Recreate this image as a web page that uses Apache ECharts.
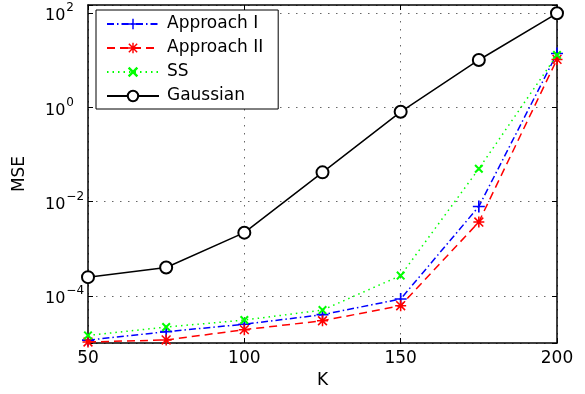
<!DOCTYPE html>
<html>
<head>
<meta charset="utf-8">
<script src="https://cdn.jsdelivr.net/npm/echarts@6/dist/echarts.min.js"></script>
<style>html,body{margin:0;padding:0;background:#fff}#c{width:585px;height:394px}</style>
</head>
<body>
<div id="c"></div>
<script>
const categories = [50, 75, 100, 125, 150, 175, 200];
const approach1 = [1.15e-5, 1.74e-5, 2.5e-5, 4.0e-5, 8.6e-5, 7.9e-3, 14];
const approach2 = [1.05e-5, 1.16e-5, 1.92e-5, 2.97e-5, 6.2e-5, 3.7e-3, 10.5];
const ss = [1.45e-5, 2.18e-5, 3.07e-5, 5.0e-5, 2.7e-4, 0.05, 13];
const gaussian = [2.5e-4, 4.0e-4, 2.2e-3, 0.042, 0.81, 10.2, 100];
const seriesNames = ['Approach I', 'Approach II', 'SS', 'Gaussian'];
const xTicks = [50, 100, 150, 200];
const yTickExponents = [-4, -2, 0, 2];
const xName = 'K';
const yName = 'MSE';

const FONT = 'DejaVu Sans';
const pair = arr => categories.map((k, i) => [k, arr[i]]);

const SYM_PLUS = 'path://M4.3,0H5.7V10H4.3Z M0,4.3H10V5.7H0Z';
const SYM_STAR = 'path://M4.3,0H5.7V10H4.3Z M0,4.3H10V5.7H0Z M0.5,1.5L1.5,0.5L9.5,8.5L8.5,9.5Z M8.5,0.5L9.5,1.5L1.5,9.5L0.5,8.5Z';
const SYM_X = 'path://M0,1.6L1.6,0L10,8.4L8.4,10Z M8.4,0L10,1.6L1.6,10L0,8.4Z';

function yLabel(v) {
  const l = Math.log10(v);
  const e = Math.round(l);
  if (Math.abs(l - e) > 1e-6 || yTickExponents.indexOf(e) < 0) return '';
  return '{b|10}{e|' + (e < 0 ? '\u2212' + (-e) : e) + '}';
}

const grid = { left: 88, right: 28, top: 5, bottom: 51 };
const axisLineStyle = { color: '#000', width: 1.5 };
const gridLine = { show: true, lineStyle: { color: '#666', width: 1, type: [1.5, 6.5] } };

const chart = echarts.init(document.getElementById('c'), null, { renderer: 'canvas' });
chart.setOption({
  animation: false,
  backgroundColor: '#fff',
  grid: grid,
  legend: {
    orient: 'vertical',
    left: 96, top: 10,
    padding: [4, 15, 3, 10],
    itemGap: 4,
    itemWidth: 52,
    itemHeight: 13,
    backgroundColor: '#fff',
    borderColor: '#000',
    borderWidth: 1,
    data: seriesNames,
    textStyle: { fontFamily: FONT, fontSize: 17, color: '#000', lineHeight: 20, padding: [0, 0, 0, 3] }
  },
  xAxis: [{
    type: 'value', min: xTicks[0], max: xTicks[xTicks.length - 1], interval: 50,
    name: xName, nameLocation: 'middle', nameGap: 28,
    nameTextStyle: { fontFamily: FONT, fontSize: 17, color: '#000' },
    axisLine: { show: true, lineStyle: axisLineStyle },
    axisTick: { show: true, inside: true, length: 5, lineStyle: { color: '#000' } },
    axisLabel: { fontFamily: FONT, fontSize: 17, color: '#000', margin: 7 },
    splitLine: gridLine
  }, {
    type: 'value', position: 'top', min: xTicks[0], max: xTicks[xTicks.length - 1], interval: 50,
    axisLine: { show: true, lineStyle: axisLineStyle },
    axisTick: { show: true, inside: true, length: 5, lineStyle: { color: '#000' } },
    axisLabel: { show: false }, splitLine: { show: false }
  }],
  yAxis: [{
    type: 'log', logBase: 100, min: 1e-5, max: 150, splitNumber: 3,
    name: yName, nameLocation: 'middle', nameGap: 60,
    nameTextStyle: { fontFamily: FONT, fontSize: 17, color: '#000' },
    axisLine: { show: true, lineStyle: axisLineStyle },
    axisTick: { show: true, inside: true, length: 5, lineStyle: { color: '#000' } },
    axisLabel: {
      formatter: yLabel, align: 'left', margin: 43,
      rich: {
        b: { fontFamily: FONT, fontSize: 16, color: '#000', verticalAlign: 'bottom' },
        e: { fontFamily: FONT, fontSize: 12, color: '#000', verticalAlign: 'top', padding: [0, 0, 10, 1] }
      }
    },
    splitLine: gridLine
  }, {
    type: 'log', logBase: 100, min: 1e-5, max: 150, splitNumber: 3, position: 'right',
    axisLine: { show: true, lineStyle: axisLineStyle },
    axisTick: { show: true, inside: true, length: 5, lineStyle: { color: '#000' } },
    axisLabel: { show: false }, splitLine: { show: false }
  }],
  series: [
    {
      name: seriesNames[0], type: 'line', data: pair(approach1),
      symbol: SYM_PLUS, symbolSize: 12,
      lineStyle: { color: '#0000ff', width: 1.5, type: [7, 3, 1.5, 3] },
      itemStyle: { color: '#0000ff' }
    },
    {
      name: seriesNames[1], type: 'line', data: pair(approach2),
      symbol: SYM_STAR, symbolSize: 11,
      lineStyle: { color: '#ff0000', width: 1.5, type: [8, 5] },
      itemStyle: { color: '#ff0000' }
    },
    {
      name: seriesNames[2], type: 'line', data: pair(ss),
      symbol: SYM_X, symbolSize: 9,
      lineStyle: { color: '#00ff00', width: 1.5, type: [1.5, 4] },
      itemStyle: { color: '#00ff00' }
    },
    {
      name: seriesNames[3], type: 'line', data: pair(gaussian),
      symbol: 'emptyCircle', symbolSize: 12,
      lineStyle: { color: '#000', width: 1.5 },
      itemStyle: { color: '#000', borderWidth: 1.5 }
    }
  ]
});
</script>
</body>
</html>
